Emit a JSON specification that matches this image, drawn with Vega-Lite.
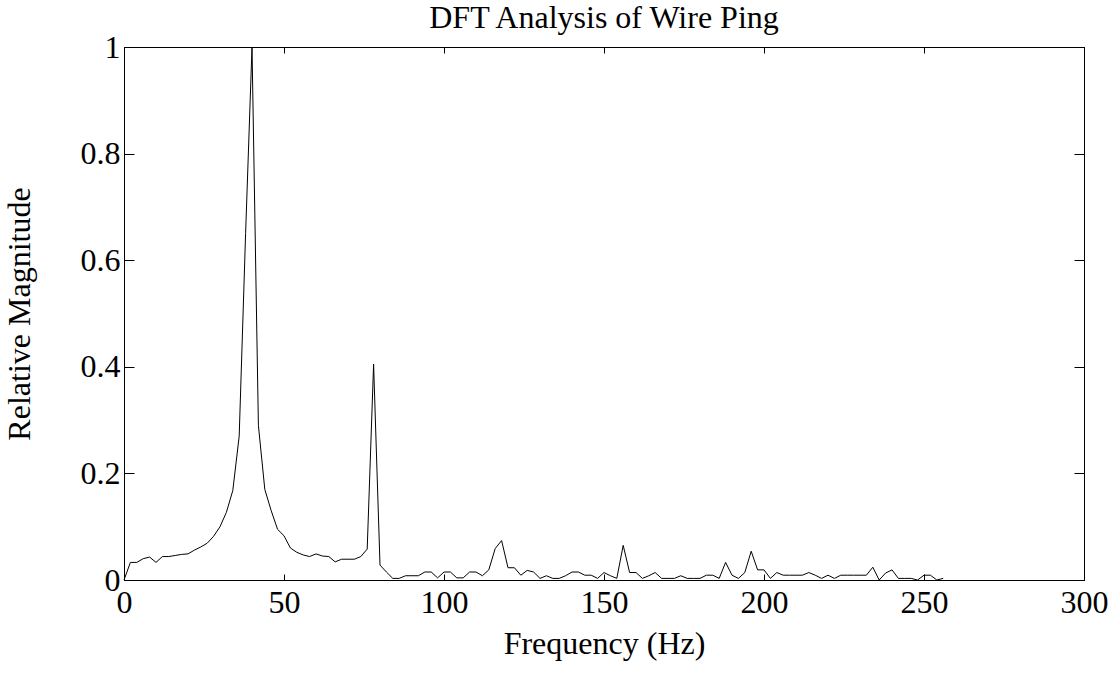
{
  "$schema": "https://vega.github.io/schema/vega-lite/v6.json",
  "width": 960,
  "height": 533,
  "autosize": {"type": "none"},
  "padding": {"left": 124, "top": 47, "right": 31, "bottom": 97},
  "background": "white",
  "config": {
    "view": {"stroke": "black", "strokeWidth": 1},
    "font": "Liberation Serif",
    "axis": {
      "grid": false,
      "domainColor": "black",
      "tickColor": "black",
      "labelColor": "black",
      "titleColor": "black",
      "labelFont": "Liberation Serif",
      "titleFont": "Liberation Serif",
      "labelFontSize": 32,
      "titleFontSize": 32,
      "titleFontWeight": "normal"
    }
  },
  "title": {
    "text": "DFT Analysis of Wire Ping",
    "font": "Liberation Serif",
    "fontSize": 32,
    "fontWeight": "normal",
    "color": "black",
    "offset": 6,
    "dy": 10
  },
  "data": {
    "values": [
      {"f": 0, "m": 0}, {"f": 2, "m": 0.033}, {"f": 4, "m": 0.033}, {"f": 6, "m": 0.04},
      {"f": 8, "m": 0.043}, {"f": 10, "m": 0.033}, {"f": 12, "m": 0.044}, {"f": 14, "m": 0.044},
      {"f": 16, "m": 0.046}, {"f": 18, "m": 0.048}, {"f": 20, "m": 0.049}, {"f": 22, "m": 0.056},
      {"f": 24, "m": 0.062}, {"f": 26, "m": 0.069}, {"f": 28, "m": 0.082}, {"f": 30, "m": 0.1},
      {"f": 32, "m": 0.127}, {"f": 34, "m": 0.168}, {"f": 36, "m": 0.27}, {"f": 38, "m": 0.65},
      {"f": 40, "m": 1.0}, {"f": 42, "m": 0.29}, {"f": 44, "m": 0.17}, {"f": 46, "m": 0.13},
      {"f": 48, "m": 0.095}, {"f": 50, "m": 0.083}, {"f": 52, "m": 0.06}, {"f": 54, "m": 0.052},
      {"f": 56, "m": 0.047}, {"f": 58, "m": 0.044}, {"f": 60, "m": 0.049}, {"f": 62, "m": 0.045},
      {"f": 64, "m": 0.044}, {"f": 66, "m": 0.034}, {"f": 68, "m": 0.039}, {"f": 70, "m": 0.039},
      {"f": 72, "m": 0.039}, {"f": 74, "m": 0.044}, {"f": 76, "m": 0.058}, {"f": 78, "m": 0.405},
      {"f": 80, "m": 0.028}, {"f": 82, "m": 0.015}, {"f": 84, "m": 0.003}, {"f": 86, "m": 0.003},
      {"f": 88, "m": 0.008}, {"f": 90, "m": 0.008}, {"f": 92, "m": 0.008}, {"f": 94, "m": 0.015},
      {"f": 96, "m": 0.015}, {"f": 98, "m": 0.004}, {"f": 100, "m": 0.015}, {"f": 102, "m": 0.015},
      {"f": 104, "m": 0.004}, {"f": 106, "m": 0.004}, {"f": 108, "m": 0.015}, {"f": 110, "m": 0.015},
      {"f": 112, "m": 0.008}, {"f": 114, "m": 0.019}, {"f": 116, "m": 0.059}, {"f": 118, "m": 0.074},
      {"f": 120, "m": 0.023}, {"f": 122, "m": 0.023}, {"f": 124, "m": 0.009}, {"f": 126, "m": 0.018},
      {"f": 128, "m": 0.015}, {"f": 130, "m": 0.003}, {"f": 132, "m": 0.008}, {"f": 134, "m": 0.003},
      {"f": 136, "m": 0.003}, {"f": 138, "m": 0.008}, {"f": 140, "m": 0.015}, {"f": 142, "m": 0.015},
      {"f": 144, "m": 0.009}, {"f": 146, "m": 0.009}, {"f": 148, "m": 0.003}, {"f": 150, "m": 0.014},
      {"f": 152, "m": 0.008}, {"f": 154, "m": 0.003}, {"f": 156, "m": 0.065}, {"f": 158, "m": 0.014},
      {"f": 160, "m": 0.014}, {"f": 162, "m": 0.003}, {"f": 164, "m": 0.008}, {"f": 166, "m": 0.014},
      {"f": 168, "m": 0.003}, {"f": 170, "m": 0.003}, {"f": 172, "m": 0.003}, {"f": 174, "m": 0.008},
      {"f": 176, "m": 0.003}, {"f": 178, "m": 0.003}, {"f": 180, "m": 0.003}, {"f": 182, "m": 0.009},
      {"f": 184, "m": 0.009}, {"f": 186, "m": 0.003}, {"f": 188, "m": 0.033}, {"f": 190, "m": 0.009},
      {"f": 192, "m": 0.003}, {"f": 194, "m": 0.014}, {"f": 196, "m": 0.054}, {"f": 198, "m": 0.019},
      {"f": 200, "m": 0.019}, {"f": 202, "m": 0.003}, {"f": 204, "m": 0.014}, {"f": 206, "m": 0.009},
      {"f": 208, "m": 0.009}, {"f": 210, "m": 0.009}, {"f": 212, "m": 0.009}, {"f": 214, "m": 0.014},
      {"f": 216, "m": 0.009}, {"f": 218, "m": 0.003}, {"f": 220, "m": 0.009}, {"f": 222, "m": 0.003},
      {"f": 224, "m": 0.009}, {"f": 226, "m": 0.009}, {"f": 228, "m": 0.009}, {"f": 230, "m": 0.009},
      {"f": 232, "m": 0.009}, {"f": 234, "m": 0.024}, {"f": 236, "m": 0.0}, {"f": 238, "m": 0.013},
      {"f": 240, "m": 0.019}, {"f": 242, "m": 0.003}, {"f": 244, "m": 0.003}, {"f": 246, "m": 0.003},
      {"f": 248, "m": 0.0}, {"f": 250, "m": 0.009}, {"f": 252, "m": 0.009}, {"f": 254, "m": 0.0},
      {"f": 256, "m": 0.003}
    ]
  },
  "layer": [
    {
      "mark": {"type": "line", "color": "black", "strokeWidth": 1, "interpolate": "linear"},
      "encoding": {
        "x": {
          "field": "f", "type": "quantitative",
          "scale": {"domain": [0, 300], "nice": false, "zero": false},
          "axis": {
            "orient": "bottom", "values": [0, 50, 100, 150, 200, 250, 300],
            "tickSize": -6, "labelPadding": 13, "title": "Frequency (Hz)", "titlePadding": 10,
            "labelFlush": false, "labelOverlap": false
          }
        },
        "y": {
          "field": "m", "type": "quantitative",
          "scale": {"domain": [0, 1], "nice": false},
          "axis": {
            "orient": "left", "values": [0, 0.2, 0.4, 0.6, 0.8, 1], "format": "~g",
            "tickSize": -10, "labelPadding": 14, "title": "Relative Magnitude", "titlePadding": 44,
            "labelFlush": false, "labelOverlap": false
          }
        }
      }
    },
    {
      "mark": {"type": "line", "opacity": 0},
      "encoding": {
        "x": {
          "field": "f", "type": "quantitative",
          "scale": {"domain": [0, 300], "nice": false, "zero": false},
          "axis": {
            "orient": "top", "values": [0, 50, 100, 150, 200, 250, 300],
            "tickSize": -6, "labels": false, "title": null
          }
        },
        "y": {
          "field": "m", "type": "quantitative",
          "scale": {"domain": [0, 1], "nice": false},
          "axis": {
            "orient": "right", "values": [0, 0.2, 0.4, 0.6, 0.8, 1],
            "tickSize": -10, "labels": false, "title": null
          }
        }
      }
    }
  ],
  "resolve": {"axis": {"x": "independent", "y": "independent"}}
}
